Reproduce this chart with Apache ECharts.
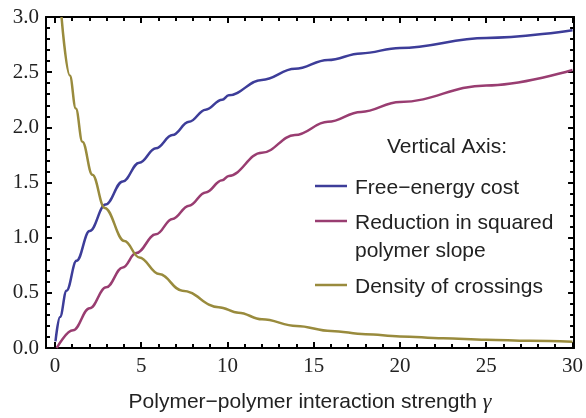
<!DOCTYPE html>
<html>
<head>
<meta charset="utf-8">
<script src="https://cdn.jsdelivr.net/npm/echarts@6/dist/echarts.min.js"></script>
<style>
	html, body { margin: 0; padding: 0; background: #fff; }
	#main { width: 586px; height: 418px; }
</style>
</head>
<body>
<div id="main"></div>
<script>
	// values
	var gammaFree = [0.03, 0.29, 0.67, 1.25, 2.01, 2.93, 3.93, 4.89, 5.85, 6.81, 7.77, 8.73, 9.69, 10.07, 11.99, 13.91, 15.82, 17.74, 20, 25, 30];
	var freeEnergy = [0.06, 0.28, 0.52, 0.79, 1.06, 1.30, 1.51, 1.68, 1.81, 1.93, 2.05, 2.16, 2.25, 2.29, 2.43, 2.53, 2.61, 2.67, 2.72, 2.81, 2.88];

	var gammaSlope = [0.1, 1.05, 2.01, 2.97, 3.93, 4.70, 5.85, 6.81, 7.77, 8.73, 9.69, 10.07, 11.99, 13.91, 15.82, 17.74, 20, 25, 30];
	var slopeReduction = [0.0, 0.16, 0.36, 0.55, 0.73, 0.86, 1.03, 1.17, 1.29, 1.41, 1.52, 1.56, 1.77, 1.93, 2.05, 2.14, 2.23, 2.38, 2.52];

	var gammaCross = [0.38, 0.86, 1.21, 1.59, 2.17, 2.88, 4.03, 4.89, 6.04, 7.38, 9.49, 10.64, 12, 14, 16, 18, 20, 22.5, 25, 27.5, 30];
	var crossDensity = [3.0, 2.47, 2.17, 1.87, 1.57, 1.27, 0.97, 0.82, 0.67, 0.52, 0.37, 0.32, 0.26, 0.20, 0.155, 0.125, 0.105, 0.088, 0.075, 0.065, 0.057];

	var seriesNames = ['Free\u2212energy cost', 'Reduction in squared\npolymer slope', 'Density of crossings'];
	var seriesColors = ['#3d3d99', '#993d71', '#998b3d'];

	var xMajorTicks = [0, 5, 10, 15, 20, 25, 30];
	var xMinorTicks = [];
	for (var i = 1; i < 30; i++) { if (i % 5 !== 0) xMinorTicks.push(i); }

	function pairs(xs, ys) {
		return xs.map(function (x, k) { return [x, ys[k]]; });
	}

	var frameLine = { show: true, onZero: false, lineStyle: { color: '#000', width: 2 } };
	var noLine = { show: false, onZero: false };

	function xAx(pos, ticks, len, withLine, withLabels) {
		var ax = {
			type: 'value', position: pos, min: -0.52, max: 30.09,
			axisLine: withLine ? frameLine : noLine,
			axisTick: { show: true, inside: true, length: len, customValues: ticks, lineStyle: { color: '#000', width: 2 } },
			axisLabel: withLabels ? {
				show: true, customValues: ticks, margin: 8,
				fontFamily: 'Liberation Serif', fontSize: 21, color: '#222'
			} : { show: false },
			splitLine: { show: false }
		};
		return ax;
	}

	var bottomAxis = xAx('bottom', xMajorTicks, 6, true, true);
	bottomAxis.name = 'Polymer\u2212polymer interaction strength {g|\u03b3}';
	bottomAxis.nameLocation = 'middle';
	bottomAxis.nameGap = 43;
	bottomAxis.nameTextStyle = {
		fontFamily: 'Liberation Sans', fontSize: 21, color: '#222',
		rich: { g: { fontFamily: 'Liberation Serif', fontStyle: 'italic', fontSize: 22, color: '#222' } }
	};

	function yAx(pos, withLabels) {
		return {
			type: 'value', position: pos, min: 0, max: 3, interval: 0.5,
			axisLine: frameLine,
			axisTick: { show: true, inside: true, length: 6, lineStyle: { color: '#000', width: 2 } },
			minorTick: { show: true, splitNumber: 5, length: 4, lineStyle: { color: '#000', width: 2 } },
			axisLabel: withLabels ? {
				show: true, margin: 7, fontFamily: 'Liberation Serif', fontSize: 21, color: '#222',
				formatter: function (v) { return v.toFixed(1); }
			} : { show: false },
			splitLine: { show: false },
			minorSplitLine: { show: false }
		};
	}

	var legendTop = 186;
	var legendRows = [186, 221, 285];
	var legendGraphics = [{
		type: 'text', left: 447, top: 147,
		style: { text: 'Vertical Axis:', x: 0, y: 0, align: 'center', verticalAlign: 'middle',
			font: '21px "Liberation Sans"', fill: '#222' },
		position: [447, 147]
	}];
	legendRows.forEach(function (y, k) {
		legendGraphics.push({
			type: 'line', shape: { x1: 315, y1: y, x2: 347, y2: y },
			style: { stroke: seriesColors[k], lineWidth: 2.5 }
		});
		legendGraphics.push({
			type: 'text', x: 355, y: y,
			style: { text: seriesNames[k], align: 'left', verticalAlign: 'top',
				font: '21px "Liberation Sans"', fill: '#222', lineHeight: 28, y: -12 }
		});
	});
	legendGraphics[0] = {
		type: 'text', x: 447, y: 147,
		style: { text: 'Vertical Axis:', align: 'center', verticalAlign: 'middle',
			font: '21px "Liberation Sans"', fill: '#222' }
	};

	var myChart = echarts.init(document.getElementById('main'), null, { renderer: 'canvas' });
	myChart.setOption({
		animation: false,
		grid: { left: 46, right: 8, top: 17, bottom: 67, containLabel: false },
		xAxis: [
			bottomAxis,
			xAx('bottom', xMinorTicks, 4, false, false),
			xAx('top', xMajorTicks, 6, true, false),
			xAx('top', xMinorTicks, 4, false, false)
		],
		yAxis: [yAx('left', true), yAx('right', false)],
		graphic: legendGraphics,
		series: [
			{ name: seriesNames[0], type: 'line', data: pairs(gammaFree, freeEnergy) },
			{ name: seriesNames[1], type: 'line', data: pairs(gammaSlope, slopeReduction) },
			{ name: seriesNames[2], type: 'line', data: pairs(gammaCross, crossDensity) }
		].map(function (s, k) {
			s.xAxisIndex = 0; s.yAxisIndex = 0;
			s.smooth = 0.4; s.smoothMonotone = 'x';
			s.showSymbol = false; s.symbol = 'none';
			s.lineStyle = { color: seriesColors[k], width: 2.5 };
			s.itemStyle = { color: seriesColors[k] };
			s.clip = true;
			return s;
		})
	});
</script>
</body>
</html>
